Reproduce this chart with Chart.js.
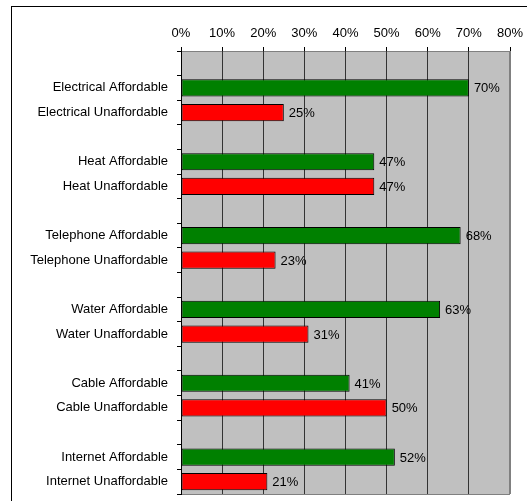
<!DOCTYPE html>
<html>
<head>
<meta charset="utf-8">
<script src="https://cdn.jsdelivr.net/npm/chart.js@4/dist/chart.umd.min.js"></script>
<style>
  html, body { margin: 0; padding: 0; background: #fff; }
  canvas { display: block; }
</style>
</head>
<body>
<canvas id="chart" width="527" height="501"></canvas>
<script>
// 料金の負担感（カテゴリごとに Affordable / Unaffordable）
const services = ['Electrical', 'Heat', 'Telephone', 'Water', 'Cable', 'Internet']
const affordable = [70, 47, 68, 63, 41, 52]
const unaffordable = [25, 47, 23, 31, 50, 21]
const xTicks = [0, 10, 20, 30, 40, 50, 60, 70, 80]

// 空きスロットを挟んでラベルとデータを組み立てる
const labels = []
const values = []
const colors = []
services.forEach((s, i) => {
  labels.push('')
  values.push(null)
  colors.push('transparent')
  labels.push(s + ' Affordable')
  values.push(affordable[i])
  colors.push('#008000')
  labels.push(s + ' Unaffordable')
  values.push(unaffordable[i])
  colors.push('#FF0000')
})

Chart.defaults.font.family = 'Arial, "Liberation Sans", sans-serif'
Chart.defaults.font.size = 13
Chart.defaults.color = '#000'

const plotBg = {
  id: 'plotBg',
  beforeDraw(chart) {
    const { ctx, chartArea: a } = chart
    ctx.save()
    ctx.fillStyle = '#C0C0C0'
    ctx.fillRect(a.left, a.top, a.right - a.left, a.bottom - a.top)
    ctx.strokeStyle = '#808080'
    ctx.lineWidth = 1
    ctx.strokeRect(a.left + 0.5, a.top + 0.5, a.right - a.left - 1, a.bottom - a.top)
    ctx.restore()
  },
  afterDraw(chart) {
    const ctx = chart.ctx
    ctx.save()
    ctx.strokeStyle = '#000'
    ctx.lineWidth = 1
    ctx.strokeRect(11.5, 6.5, 700, 700)
    ctx.restore()
  }
}

const valueLabels = {
  id: 'valueLabels',
  afterDatasetsDraw(chart) {
    const ctx = chart.ctx
    const meta = chart.getDatasetMeta(0)
    ctx.save()
    ctx.font = '13px Arial, "Liberation Sans", sans-serif'
    ctx.fillStyle = '#000'
    ctx.textAlign = 'left'
    ctx.textBaseline = 'middle'
    meta.data.forEach((bar, i) => {
      const v = values[i]
      if (v == null) return
      ctx.fillText(v + '%', bar.x + 5, bar.y + 1)
    })
    ctx.restore()
  }
}

new Chart(document.getElementById('chart'), {
  type: 'bar',
  data: {
    labels: labels,
    datasets: [{
      data: values,
      backgroundColor: colors,
      borderColor: '#000',
      borderWidth: 1,
      borderSkipped: false,
      barPercentage: 0.7,
      categoryPercentage: 1
    }]
  },
  options: {
    indexAxis: 'y',
    responsive: false,
    animation: false,
    devicePixelRatio: 1,
    layout: {
      padding: { left: 0, right: 17, top: 0, bottom: 7 }
    },
    plugins: {
      legend: { display: false },
      tooltip: { enabled: false }
    },
    scales: {
      x: {
        position: 'top',
        min: 0,
        max: 80,
        afterBuildTicks(scale) {
          scale.ticks = xTicks.map(v => ({ value: v }))
        },
        afterFit(scale) {
          scale.height = 51
          scale.paddingLeft = 0
          scale.paddingRight = 0
        },
        ticks: {
          padding: 6,
          callback: v => v + '%'
        },
        grid: {
          color: ctx => (ctx.tick && ctx.tick.value === 80) ? '#808080' : '#333',
          tickColor: '#000',
          tickLength: 4,
          lineWidth: 1
        },
        border: { display: false }
      },
      y: {
        afterFit(scale) {
          scale.width = 181
          scale.paddingTop = 0
          scale.paddingBottom = 0
        },
        ticks: {
          padding: 9,
          autoSkip: false
        },
        grid: {
          drawOnChartArea: false,
          offset: true,
          tickColor: '#000',
          tickLength: 4
        },
        border: { display: true, color: '#000', width: 1 }
      }
    }
  },
  plugins: [plotBg, valueLabels]
})
</script>
</body>
</html>
